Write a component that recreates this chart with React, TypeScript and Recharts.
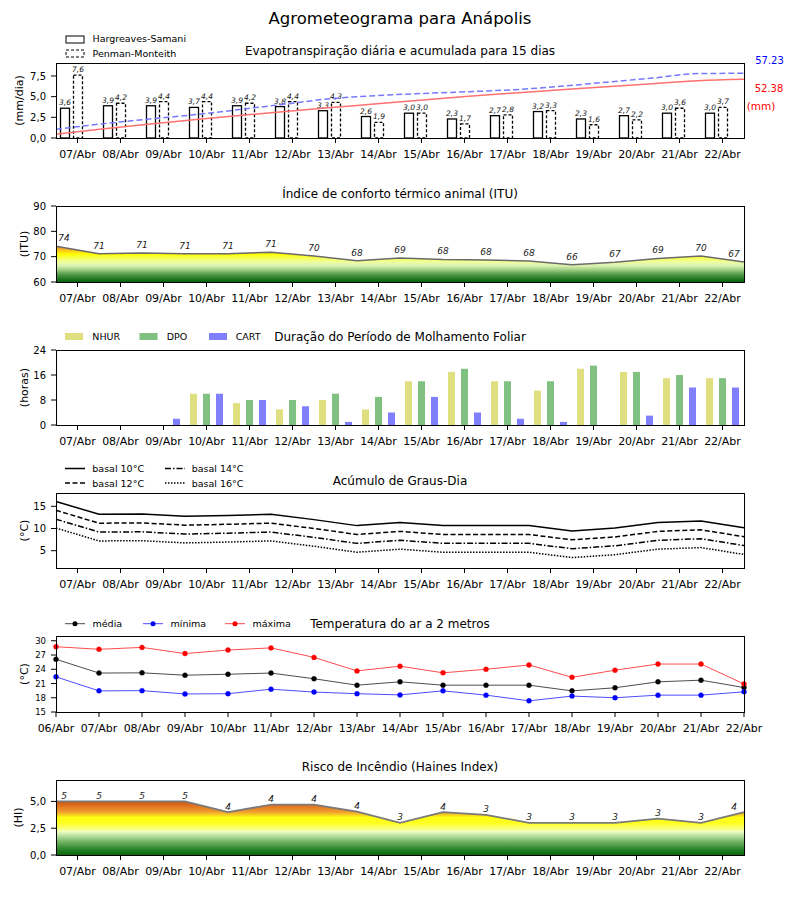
import { Area, Bar, ComposedChart, LabelList, Line, XAxis, YAxis } from 'recharts';

const FONT = '"DejaVu Sans", "Liberation Sans", sans-serif';

// one entry per forecast day
const days = ['07/Abr', '08/Abr', '09/Abr', '10/Abr', '11/Abr', '12/Abr', '13/Abr', '14/Abr', '15/Abr', '16/Abr', '17/Abr', '18/Abr', '19/Abr', '20/Abr', '21/Abr', '22/Abr'];
// temperature panel labels the day boundaries, so it starts one day earlier
const tempDays = ['06/Abr', ...days];

// evapotranspiration (mm/dia) and its running total (mm)
const etHargreaves = [3.6, 3.9, 3.9, 3.7, 3.9, 3.8, 3.3, 2.6, 3.0, 2.3, 2.7, 3.2, 2.3, 2.7, 3.0, 3.0];
const etPenman = [7.6, 4.2, 4.4, 4.4, 4.2, 4.4, 4.3, 1.9, 3.0, 1.7, 2.8, 3.3, 1.6, 2.2, 3.6, 3.7];
const accHargreaves = [3.3, 8.0, 12.3, 16.2, 20.0, 23.7, 27.2, 30.5, 34.0, 37.2, 40.2, 43.0, 45.8, 48.5, 51.1, 52.4];
const accPenman = [7.8, 12.6, 16.8, 20.7, 25.4, 30.3, 35.2, 37.9, 39.8, 41.4, 43.2, 46.2, 49.9, 53.5, 57.6, 57.8];
const accTotals = { hs: '52.38', pm: '57.23' };

// the curves below are sampled at day boundaries (17 points)
const itu = [74.1, 71.2, 71.45, 71.2, 71.2, 71.7, 70.3, 68.4, 69.5, 68.9, 68.7, 68.3, 66.8, 67.8, 69.3, 70.3, 67.9];

// leaf wetness (horas)
const nhur = [0, 0, 0, 10, 7, 5, 8, 5, 14, 17, 14, 11, 18, 17, 15, 15];
const dpo = [0, 0, 0, 10, 8, 8, 10, 9, 14, 18, 14, 14, 19, 17, 16, 15];
const cart = [0, 0, 2, 10, 8, 6, 1, 4, 9, 4, 2, 1, 0, 3, 12, 12];

const gdBasal10 = [16.1, 13.2, 13.25, 12.75, 12.95, 13.2, 12.0, 10.65, 11.35, 10.65, 10.65, 10.65, 9.45, 10.1, 11.35, 11.7, 10.15];
const gdBasal12 = [14.1, 11.2, 11.25, 10.75, 10.95, 11.2, 10.0, 8.65, 9.35, 8.65, 8.65, 8.65, 7.45, 8.1, 9.35, 9.7, 8.15];
const gdBasal14 = [12.1, 9.2, 9.25, 8.75, 8.95, 9.2, 8.0, 6.65, 7.35, 6.65, 6.65, 6.65, 5.45, 6.1, 7.35, 7.7, 6.15];
const gdBasal16 = [10.1, 7.2, 7.25, 6.75, 6.95, 7.2, 6.0, 4.65, 5.35, 4.65, 4.65, 4.65, 3.45, 4.1, 5.35, 5.7, 4.15];

const tMedia = [26.1, 23.2, 23.25, 22.75, 22.95, 23.2, 22.0, 20.65, 21.35, 20.65, 20.65, 20.65, 19.45, 20.1, 21.35, 21.7, 20.15];
const tMin = [22.4, 19.45, 19.5, 18.8, 18.85, 19.8, 19.2, 18.85, 18.6, 19.45, 18.55, 17.35, 18.35, 18.0, 18.55, 18.55, 19.25];
const tMax = [28.75, 28.2, 28.6, 27.3, 28.05, 28.5, 26.5, 23.65, 24.65, 23.25, 24.0, 24.9, 22.3, 23.8, 25.1, 25.1, 20.9];

const haines = [5.0, 5.0, 5.0, 5.0, 4.0, 4.7, 4.7, 4.05, 3.0, 4.0, 3.75, 3.0, 3.0, 3.0, 3.4, 3.0, 4.0];

const etRows = days.map((day, k) => ({ day, hs: etHargreaves[k], pm: etPenman[k] }));
const accRows = accHargreaves.map((hs, k) => ({ pos: k, hs, pm: accPenman[k] }));
const ituRows = itu.map((v, k) => ({ pos: k, itu: v }));
const wetRows = days.map((day, k) => ({ day, nhur: nhur[k], dpo: dpo[k], cart: cart[k] }));
const gdRows = gdBasal10.map((b10, k) => ({ pos: k, b10, b12: gdBasal12[k], b14: gdBasal14[k], b16: gdBasal16[k] }));
const tempRows = tMedia.map((media, k) => ({ pos: k, media, min: tMin[k], max: tMax[k] }));
const hainesRows = haines.map((v, k) => ({ pos: k, hi: v }));

const dayTicks = days.map((_, k) => k + 0.5);
const edgeTicks = tempDays.map((_, k) => k);

// plot rectangles of the six panels, in page pixels
const PLOTS = [
  { top: 63, h: 75 },
  { top: 206, h: 76 },
  { top: 350, h: 75 },
  { top: 493, h: 75 },
  { top: 636, h: 76 },
  { top: 780, h: 75 },
];
const PAD = 5;
const XH = 32;
const PLOT_L = 56;
const PLOT_R = 744;

const ITU_COLORS: [number, string][] = [
  [90, '#c02000'], [76, '#e06010'], [74, '#f09030'], [72.6, '#f8c020'], [71, '#ffff00'],
  [69.5, '#f8ff50'], [67.9, '#eeffa0'], [66.3, '#d8f0b0'], [64.7, '#9ccc80'], [63.2, '#5a9e50'],
  [61.6, '#2a802a'], [60, '#0a600a'],
];
const HAINES_COLORS: [number, string][] = [
  [7, '#b03000'], [5, '#c85a10'], [4.6, '#e07020'], [4, '#f0a030'], [3.5, '#ffff10'], [3, '#ffff20'],
  [2.5, '#f8ff70'], [2.2, '#f0ffc0'], [1.8, '#b8e0a0'], [1.2, '#70b060'], [0.6, '#2e8a2e'], [0, '#0b640b'],
];

const tick = (size: number) => ({ fill: '#000', fontSize: size, fontFamily: FONT });
const xCommon = { axisLine: false, tickLine: { stroke: '#000' }, tickSize: 5, tickMargin: 7, height: XH, interval: 0 as const };
const yCommon = { axisLine: false, tickLine: { stroke: '#000' }, tickSize: 5, tickMargin: 5, width: PLOT_L, interval: 0 as const };
const margin = { top: PAD, right: 800 - PLOT_R, bottom: 0, left: 0 };
const comma = (v: number) => v.toFixed(1).replace('.', ',');
const dayAt = (v: number) => days[Math.floor(v)];

const box = (i: number) => ({ position: 'absolute' as const, left: 0, top: PLOTS[i].top - PAD });
const chartH = (i: number) => PAD + PLOTS[i].h + XH;

// HS bars sit left of the tick, PM bars are centred on it
const BAR_SHIFT = 6.5;
function etBar(key: 'hs' | 'pm', dashed: boolean) {
  return (p: any) => {
    const x = p.x - BAR_SHIFT;
    const v = p.payload[key] as number;
    return (
      <g>
        <rect x={x} y={p.y} width={p.width} height={p.height} fill="#fff" stroke="#000" strokeWidth={1.3}
          strokeDasharray={dashed ? '3 2' : undefined} />
        <text x={x + p.width / 2} y={p.y - 3} textAnchor="middle" fontSize={7.5} fontStyle="italic"
          fontFamily={FONT} fill="#111">{comma(v)}</text>
      </g>
    );
  };
}

function areaLabel(raise: number, count: number) {
  return (p: any) => {
    const shift = p.index === 0 ? 8 : p.index === count - 1 ? -10 : 0;
    return (
      <text x={Number(p.x) + shift} y={Number(p.y) - raise} textAnchor="middle" fontSize={9} fontStyle="italic"
        fontFamily={FONT} fill="#222">{Math.floor(Number(p.value) + 1e-9)}</text>
    );
  };
}

function gradientStops(domain: [number, number], colors: [number, string][]) {
  const [lo, hi] = domain;
  return colors.map(([v, c]) => <stop key={v} offset={(hi - v) / (hi - lo)} stopColor={c} />);
}

function Overlay() {
  const t = (x: number, y: number, s: string, size: number, extra: any = {}) => (
    <text x={x} y={y} fontSize={size} textAnchor="middle" dominantBaseline="central" {...extra}>{s}</text>
  );
  const yLabel = (x: number, i: number, s: string) =>
    t(x, PLOTS[i].top + PLOTS[i].h / 2, s, 11, { transform: `rotate(-90 ${x} ${PLOTS[i].top + PLOTS[i].h / 2})` });
  const lt = (x: number, y: number, s: string, size = 9.5) => t(x, y, s, size, { textAnchor: 'start' });
  return (
    <svg width={800} height={900} fontFamily={FONT}
      style={{ position: 'absolute', left: 0, top: 0, pointerEvents: 'none' }}>
      {PLOTS.map((p) => (
        <rect key={p.top} x={PLOT_L + 0.5} y={p.top + 0.5} width={PLOT_R - PLOT_L} height={p.h} fill="none" stroke="#000" />
      ))}
      {t(400, 18, 'Agrometeograma para Anápolis', 16.5)}

      {t(400, 51, 'Evapotranspiração diária e acumulada para 15 dias', 12)}
      {yLabel(19, 0, '(mm/dia)')}
      <rect x={66} y={36} width={18} height={7} fill="#fff" stroke="#000" />
      <rect x={66} y={50} width={18} height={7} fill="#fff" stroke="#000" strokeDasharray="3 2" />
      {lt(92.5, 38.5, 'Hargreaves-Samani')}
      {lt(92.5, 53, 'Penman-Monteith')}
      {t(769.5, 60, accTotals.pm, 10, { fill: '#0000ff' })}
      {t(769, 88, accTotals.hs, 10, { fill: '#ff0000' })}
      {t(761, 106, '(mm)', 10.5, { fill: '#ff0000' })}

      {t(400, 194, 'Índice de conforto térmico animal (ITU)', 12)}
      {yLabel(24, 1, '(ITU)')}

      {t(400, 337, 'Duração do Período de Molhamento Foliar', 12)}
      {yLabel(24, 2, '(horas)')}
      <rect x={65} y={333} width={18} height={7} fill="#dfdf80" />
      <rect x={139.5} y={333} width={18} height={7} fill="#80c080" />
      <rect x={209} y={333} width={18} height={7} fill="#8080ff" />
      {lt(92.3, 336.5, 'NHUR')}
      {lt(166.7, 336.5, 'DPO')}
      {lt(235.7, 336.5, 'CART')}

      {t(400, 481, 'Acúmulo de Graus-Dia', 12)}
      {yLabel(24, 3, '(°C)')}
      <line x1={65} x2={85} y1={468.5} y2={468.5} stroke="#000" strokeWidth={1.5} />
      <line x1={65} x2={85} y1={483} y2={483} stroke="#000" strokeWidth={1.5} strokeDasharray="5 2.5" />
      <line x1={165} x2={185} y1={468.5} y2={468.5} stroke="#000" strokeWidth={1.5} strokeDasharray="6 2 1.5 2" />
      <line x1={165} x2={185} y1={483} y2={483} stroke="#000" strokeWidth={1.5} strokeDasharray="1.5 1.5" />
      {lt(92.3, 468.5, 'basal 10°C')}
      {lt(92.3, 483, 'basal 12°C')}
      {lt(191.7, 468.5, 'basal 14°C')}
      {lt(191.7, 483, 'basal 16°C')}

      {t(400, 624, 'Temperatura do ar a 2 metros', 12)}
      {yLabel(24, 4, '(°C)')}
      {([['#000', 65, 'média'], ['#0000ff', 143, 'mínima'], ['#ff0000', 225, 'máxima']] as [string, number, string][]).map(
        ([c, x, s]) => (
          <g key={s}>
            <line x1={x} x2={x + 20} y1={623.7} y2={623.7} stroke={c} strokeOpacity={0.7} />
            <circle cx={x + 10} cy={623.7} r={2.5} fill={c} />
            {lt(x + 27.5, 623.7, s)}
          </g>
        ),
      )}

      {t(400, 767, 'Risco de Incêndio (Haines Index)', 12)}
      {yLabel(18, 5, '(HI)')}
    </svg>
  );
}

export default function App() {
  return (
    <div style={{ position: 'absolute', left: 0, top: 0, width: 800, height: 900, background: '#fff', fontFamily: FONT }}>
      <div style={box(0)}>
        <ComposedChart width={800} height={chartH(0)} data={etRows} margin={margin} barGap={4}>
          <XAxis xAxisId="day" dataKey="day" tick={tick(11)} {...xCommon} />
          <XAxis xAxisId="pos" type="number" dataKey="pos" domain={[0, 15]} hide />
          <YAxis yAxisId="et" domain={[0, 9.07]} ticks={[0, 2.5, 5, 7.5]} tickFormatter={comma} tick={tick(10)} {...yCommon} />
          <YAxis yAxisId="acc" orientation="right" domain={[0, 67]} hide />
          <Bar xAxisId="day" yAxisId="et" dataKey="hs" barSize={9} shape={etBar('hs', false)} isAnimationActive={false} />
          <Bar xAxisId="day" yAxisId="et" dataKey="pm" barSize={9} shape={etBar('pm', true)} isAnimationActive={false} />
          <Line xAxisId="pos" yAxisId="acc" data={accRows} dataKey="hs" type="monotone" stroke="#ff7070" strokeWidth={1.5}
            dot={false} isAnimationActive={false} />
          <Line xAxisId="pos" yAxisId="acc" data={accRows} dataKey="pm" type="monotone" stroke="#7878ff" strokeWidth={1.5}
            strokeDasharray="6 3" dot={false} isAnimationActive={false} />
        </ComposedChart>
      </div>

      <div style={box(1)}>
        <ComposedChart width={800} height={chartH(1)} data={ituRows} margin={margin}>
          <defs>
            <linearGradient id="ituFill" gradientUnits="userSpaceOnUse" x1={0} y1={PAD} x2={0} y2={PAD + PLOTS[1].h}>
              {gradientStops([60, 90], ITU_COLORS)}
            </linearGradient>
          </defs>
          <XAxis type="number" dataKey="pos" domain={[0, 16]} ticks={dayTicks} tickFormatter={dayAt} tick={tick(11)} {...xCommon} />
          <YAxis domain={[60, 90]} ticks={[60, 70, 80, 90]} tick={tick(10)} {...yCommon} />
          <Area dataKey="itu" type="linear" stroke="#6a6a6a" strokeWidth={1.5} fill="url(#ituFill)" fillOpacity={1}
            baseValue="dataMin" isAnimationActive={false}>
            <LabelList dataKey="itu" content={areaLabel(5, itu.length)} />
          </Area>
        </ComposedChart>
      </div>

      <div style={box(2)}>
        <ComposedChart width={800} height={chartH(2)} data={wetRows} margin={margin} barGap={6}>
          <XAxis dataKey="day" tick={tick(11)} {...xCommon} />
          <YAxis domain={[0, 24]} ticks={[0, 8, 16, 24]} tick={tick(10)} {...yCommon} />
          <Bar dataKey="nhur" barSize={7} fill="#dfdf80" isAnimationActive={false} />
          <Bar dataKey="dpo" barSize={7} fill="#80c080" isAnimationActive={false} />
          <Bar dataKey="cart" barSize={7} fill="#8080ff" isAnimationActive={false} />
        </ComposedChart>
      </div>

      <div style={box(3)}>
        <ComposedChart width={800} height={chartH(3)} data={gdRows} margin={margin}>
          <XAxis type="number" dataKey="pos" domain={[0, 16]} ticks={dayTicks} tickFormatter={dayAt} tick={tick(11)} {...xCommon} />
          <YAxis domain={[1.1, 18]} ticks={[5, 10, 15]} tick={tick(10)} {...yCommon} />
          <Line dataKey="b10" type="linear" stroke="#000" strokeWidth={1.5} dot={false} isAnimationActive={false} />
          <Line dataKey="b12" type="linear" stroke="#000" strokeWidth={1.5} strokeDasharray="5 2.5" dot={false} isAnimationActive={false} />
          <Line dataKey="b14" type="linear" stroke="#000" strokeWidth={1.5} strokeDasharray="6 2 1.5 2" dot={false} isAnimationActive={false} />
          <Line dataKey="b16" type="linear" stroke="#000" strokeWidth={1.5} strokeDasharray="1.5 1.5" dot={false} isAnimationActive={false} />
        </ComposedChart>
      </div>

      <div style={box(4)}>
        <ComposedChart width={800} height={chartH(4)} data={tempRows} margin={margin}>
          <XAxis type="number" dataKey="pos" domain={[0, 16]} ticks={edgeTicks} tickFormatter={(v: number) => tempDays[v]}
            tick={tick(11)} {...xCommon} />
          <YAxis domain={[15, 31]} ticks={[15, 18, 21, 24, 27, 30]} tick={tick(8.5)} {...yCommon} />
          <Line dataKey="media" type="linear" stroke="#000" strokeOpacity={0.7} strokeWidth={1}
            dot={{ r: 2.5, fill: '#000', stroke: '#000', strokeWidth: 0.5 }} isAnimationActive={false} />
          <Line dataKey="min" type="linear" stroke="#0000ff" strokeOpacity={0.7} strokeWidth={1}
            dot={{ r: 2.5, fill: '#0000ff', stroke: '#0000ff', strokeWidth: 0.5 }} isAnimationActive={false} />
          <Line dataKey="max" type="linear" stroke="#ff0000" strokeOpacity={0.7} strokeWidth={1}
            dot={{ r: 2.5, fill: '#ff0000', stroke: '#ff0000', strokeWidth: 0.5 }} isAnimationActive={false} />
        </ComposedChart>
      </div>

      <div style={box(5)}>
        <ComposedChart width={800} height={chartH(5)} data={hainesRows} margin={margin}>
          <defs>
            <linearGradient id="hainesFill" gradientUnits="userSpaceOnUse" x1={0} y1={PAD} x2={0} y2={PAD + PLOTS[5].h}>
              {gradientStops([0, 7], HAINES_COLORS)}
            </linearGradient>
          </defs>
          <XAxis type="number" dataKey="pos" domain={[0, 16]} ticks={dayTicks} tickFormatter={dayAt} tick={tick(11)} {...xCommon} />
          <YAxis domain={[0, 7]} ticks={[0, 2.5, 5]} tickFormatter={comma} tick={tick(10)} {...yCommon} />
          <Area dataKey="hi" type="linear" stroke="#7a7a7a" strokeWidth={1.8} fill="url(#hainesFill)" fillOpacity={1}
            baseValue="dataMin" isAnimationActive={false}>
            <LabelList dataKey="hi" content={areaLabel(2.5, haines.length)} />
          </Area>
        </ComposedChart>
      </div>

      <Overlay />
    </div>
  );
}
